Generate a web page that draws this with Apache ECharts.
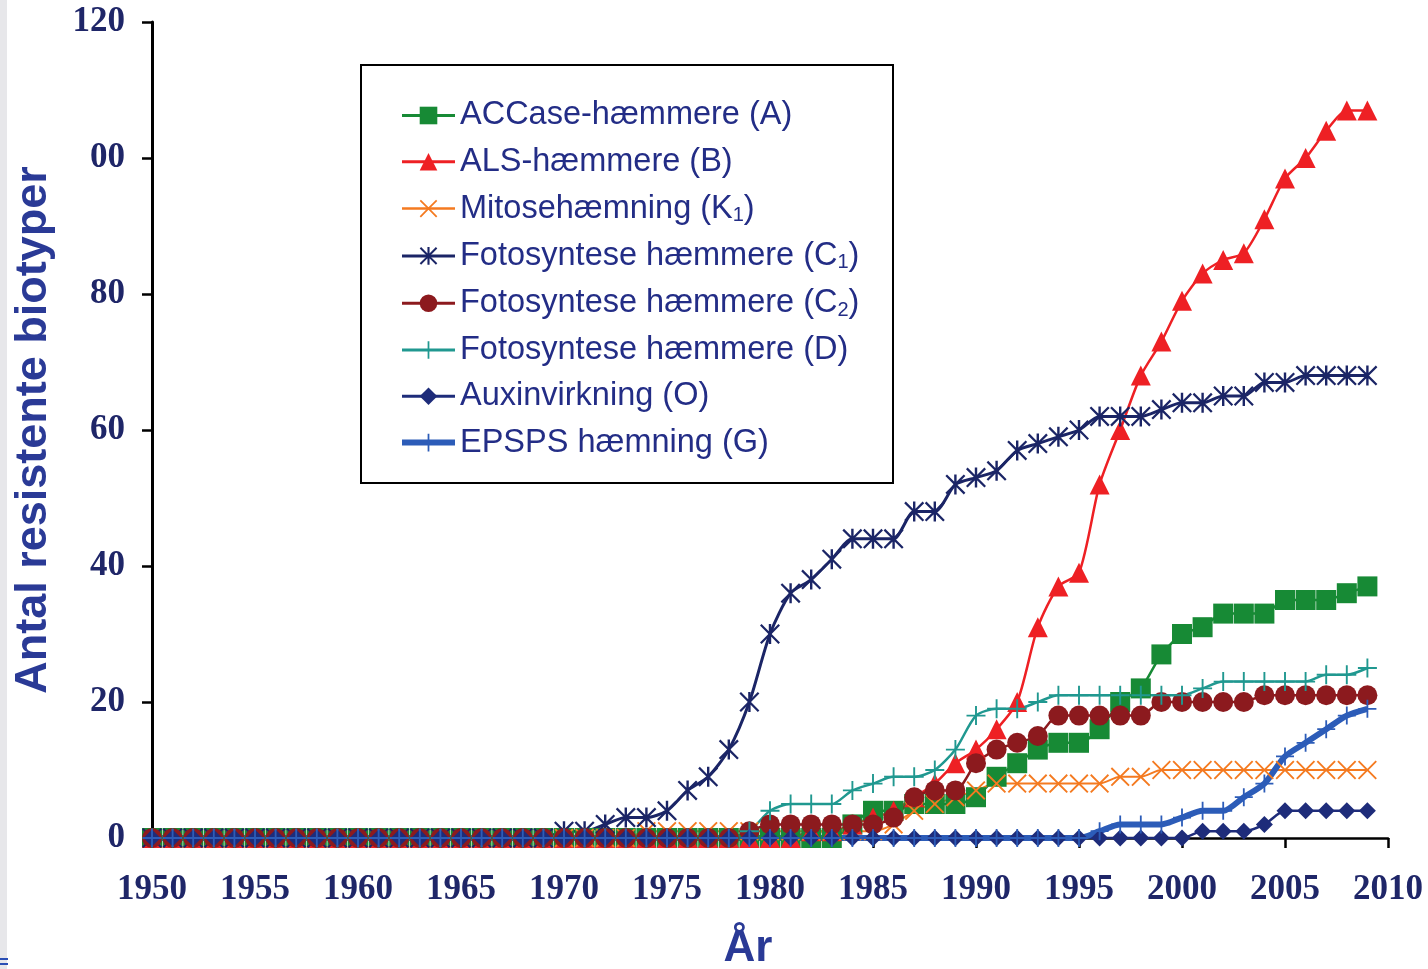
<!DOCTYPE html>
<html><head><meta charset="utf-8">
<script src="https://cdn.jsdelivr.net/npm/echarts@6/dist/echarts.min.js"></script>
<style>html,body{margin:0;padding:0;background:#fff}#c{width:1428px;height:969px}</style>
</head><body><div id="c"></div>
<script>
const years = [
  1950,1951,1952,1953,1954,1955,1956,1957,1958,1959,
  1960,1961,1962,1963,1964,1965,1966,1967,1968,1969,
  1970,1971,1972,1973,1974,1975,1976,1977,1978,1979,
  1980,1981,1982,1983,1984,1985,1986,1987,1988,1989,
  1990,1991,1992,1993,1994,1995,1996,1997,1998,1999,
  2000,2001,2002,2003,2004,2005,2006,2007,2008,2009
];
const seriesNames = [
  'ACCase-hæmmere (A)', 'ALS-hæmmere (B)', 'Mitosehæmning (K1)',
  'Fotosyntese hæmmere (C1)', 'Fotosyntese hæmmere (C2)', 'Fotosyntese hæmmere (D)',
  'Auxinvirkning (O)', 'EPSPS hæmning (G)'
];
const accaseA = [
  0,0,0,0,0,0,0,0,0,0,
  0,0,0,0,0,0,0,0,0,0,
  0,0,0,0,0,0,0,0,0,0,
  0,0,0,0,2,4,4,5,5,5,
  6,9,11,13,14,14,16,20,22,27,
  30,31,33,33,33,35,35,35,36,37
];
const alsB = [
  0,0,0,0,0,0,0,0,0,0,
  0,0,0,0,0,0,0,0,0,0,
  0,0,0,0,0,0,0,0,0,0,
  0,0,1,1,2,3,4,6,8,11,
  13,16,20,31,37,39,52,60,68,73,
  79,83,85,86,91,97,100,104,107,107
];
const mitoseK1 = [
  0,0,0,0,0,0,0,0,0,0,
  0,0,0,0,0,0,0,0,0,0,
  0,0,0,0,1,1,1,1,1,1,
  1,1,1,1,1,1,2,4,5,6,
  7,8,8,8,8,8,8,9,9,10,
  10,10,10,10,10,10,10,10,10,10
];
const fotoC1 = [
  0,0,0,0,0,0,0,0,0,0,
  0,0,0,0,0,0,0,0,0,0,
  1,1,2,3,3,4,7,9,13,20,
  30,36,38,41,44,44,44,48,48,52,
  53,54,57,58,59,60,62,62,62,63,
  64,64,65,65,67,67,68,68,68,68
];
const fotoC2 = [
  0,0,0,0,0,0,0,0,0,0,
  0,0,0,0,0,0,0,0,0,0,
  0,0,0,0,0,0,0,0,0,1,
  2,2,2,2,2,2,3,6,7,7,
  11,13,14,15,18,18,18,18,18,20,
  20,20,20,20,21,21,21,21,21,21
];
const fotoD = [
  0,0,0,0,0,0,0,0,0,0,
  0,0,0,0,0,0,0,0,0,0,
  0,0,0,0,0,0,0,0,0,1,
  4,5,5,5,7,8,9,9,10,13,
  18,19,19,20,21,21,21,21,21,21,
  21,22,23,23,23,23,23,24,24,25
];
const auxinO = [
  0,0,0,0,0,0,0,0,0,0,
  0,0,0,0,0,0,0,0,0,0,
  0,0,0,0,0,0,0,0,0,0,
  0,0,0,0,0,0,0,0,0,0,
  0,0,0,0,0,0,0,0,0,0,
  0,1,1,1,2,4,4,4,4,4
];
const epspsG = [
  0,0,0,0,0,0,0,0,0,0,
  0,0,0,0,0,0,0,0,0,0,
  0,0,0,0,0,0,0,0,0,0,
  0,0,0,0,0,0,0,0,0,0,
  0,0,0,0,0,0,1,2,2,2,
  3,4,4,6,8,12,14,16,18,19
];
const xTickLabels = ['1950','1955','1960','1965','1970','1975','1980','1985','1990','1995','2000','2005','2010'];
const yTickLabels = ['0','20','40','60','80','00','120'];

const X_PATH = 'path://M0,1.4 L1.4,0 L10,8.6 L18.6,0 L20,1.4 L11.4,10 L20,18.6 L18.6,20 L10,11.4 L1.4,20 L0,18.6 L8.6,10 Z';
const PLUS_PATH = 'path://M9,0 H11 V9 H20 V11 H11 V20 H9 V11 H0 V9 H9 Z';
const AST_PATH = 'path://M0,1.6 L1.6,0 L10,8.4 L18.4,0 L20,1.6 L11.6,10 L20,18.4 L18.4,20 L10,11.6 L1.6,20 L0,18.4 L8.4,10 Z M8.8,0 H11.2 V20 H8.8 Z';

const allValues = [accaseA, alsB, mitoseK1, fotoC1, fotoC2, fotoD, auxinO, epspsG];
const styles = [
  {color:'#178a35', symbol:'rect', size:20, width:2.5, legendWidth:3},
  {color:'#ee2024', symbol:'triangle', size:20, width:2.5, legendWidth:3},
  {color:'#f47a20', symbol:X_PATH, size:19, width:2, legendWidth:2.5},
  {color:'#1b2566', symbol:AST_PATH, size:20, width:3, legendWidth:3},
  {color:'#8c1a1e', symbol:'circle', size:20, width:2.5, legendWidth:3},
  {color:'#209890', symbol:PLUS_PATH, size:19, width:2.5, legendWidth:3},
  {color:'#1e2c7a', symbol:'diamond', size:17, width:2.5, legendWidth:3},
  {color:'#2c5cb8', symbol:PLUS_PATH, size:18, width:6, legendWidth:6}
];

const navy = '#1f2668';
const legendBlue = '#232d86';
const series = seriesNames.map((name, k) => ({
  name: name,
  type: 'line',
  data: years.map((y, i) => [y, allValues[k][i]]),
  smooth: 0.25,
  symbol: styles[k].symbol,
  symbolSize: styles[k].size,
  showAllSymbol: true,
  lineStyle: {color: styles[k].color, width: styles[k].width},
  itemStyle: {color: styles[k].color},
  emphasis: {disabled: true}
}));

const chart = echarts.init(document.getElementById('c'));
chart.setOption({
  animation: false,
  backgroundColor: '#ffffff',
  grid: {left: 152, right: 40, top: 22, bottom: 131, containLabel: false, outerBoundsMode: 'none'},
  xAxis: {
    type: 'value', min: 1950, max: 2010, interval: 5,
    name: 'År', nameLocation: 'middle', nameGap: 89,
    nameTextStyle: {fontFamily: 'Liberation Sans', fontWeight: 'bold', fontSize: 44, color: '#2a3a96', padding: [0, 44, 0, 0]},
    axisLine: {show: true, onZero: true, lineStyle: {color: '#000', width: 2.5}},
    axisTick: {show: true, inside: false, length: 10, lineStyle: {color: '#000', width: 2.5}},
    axisLabel: {
      margin: 34, fontFamily: 'Liberation Serif', fontWeight: 'bold', fontSize: 35, color: navy,
      formatter: v => xTickLabels[Math.round((v - 1950) / 5)]
    },
    splitLine: {show: false}
  },
  yAxis: {
    type: 'value', min: 0, max: 120, interval: 20,
    name: 'Antal resistente biotyper', nameLocation: 'middle', nameGap: 96,
    nameTextStyle: {fontFamily: 'Liberation Sans', fontWeight: 'bold', fontSize: 45, color: '#2a3a96'},
    axisLine: {show: true, lineStyle: {color: '#000', width: 3}},
    axisTick: {show: true, inside: false, length: 10, lineStyle: {color: '#000', width: 2.5}},
    axisLabel: {
      margin: 27, fontFamily: 'Liberation Serif', fontWeight: 'bold', fontSize: 35, color: navy,
      formatter: v => yTickLabels[Math.round(v / 20)]
    },
    splitLine: {show: false}
  },
  legend: {
    orient: 'vertical', left: 399, top: 99, padding: 0,
    itemWidth: 53, itemHeight: 22, itemGap: 13.3,
    data: seriesNames.map((n, k) => ({name: n, lineStyle: {width: styles[k].legendWidth, color: styles[k].color}})),
    selectedMode: false,
    formatter: function (name) {
      const m = name.match(/^(.*\()([A-Z])(\d)\)$/);
      if (m) return '{n|' + m[1] + m[2] + '}{s|' + m[3] + '}{n|)}';
      return '{n|' + name + '}';
    },
    textStyle: {
      fontFamily: 'Liberation Sans', fontSize: 32.5, color: legendBlue,
      rich: {
        n: {fontFamily: 'Liberation Sans', fontSize: 32.5, color: legendBlue, lineHeight: 34},
        s: {fontFamily: 'Liberation Sans', fontSize: 20, color: legendBlue, lineHeight: 14, padding: [14, 0, 0, 0]}
      }
    }
  },
  graphic: [
    {type: 'rect', shape: {x: 0, y: 0, width: 7, height: 969}, style: {fill: '#e7e7ea'}, silent: true},
    {type: 'rect', shape: {x: 0, y: 958, width: 8, height: 2}, style: {fill: '#2b4fb5'}, silent: true},
    {type: 'rect', shape: {x: 0, y: 963, width: 8, height: 2}, style: {fill: '#2b4fb5'}, silent: true},
    {type: 'rect', shape: {x: 361, y: 65, width: 532, height: 418}, style: {fill: 'none', stroke: '#000', lineWidth: 2}, silent: true, z: 10}
  ],
  series: series
});
</script></body></html>
